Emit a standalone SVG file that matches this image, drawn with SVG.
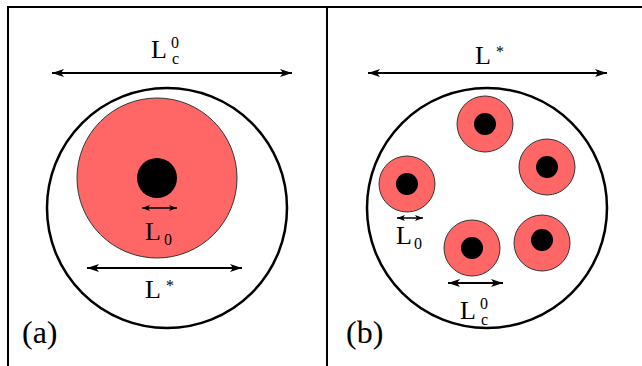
<svg xmlns="http://www.w3.org/2000/svg" width="642" height="366" viewBox="0 0 642 366">
<style>
.frame{stroke:#000;stroke-width:2;fill:none}
.big{fill:#fff;stroke:#000;stroke-width:2.5}
.red{fill:#ff6666;stroke:#333;stroke-width:1}
.core{fill:#000}
.dim{stroke:#000;stroke-width:2;fill:none;marker-start:url(#ah);marker-end:url(#ah)}
.dims{stroke:#000;stroke-width:1.5;fill:none;marker-start:url(#ahs);marker-end:url(#ahs)}
.lab{font-size:26px}
.sup{font-size:16px}
.pan{font-size:32px}
</style>
<defs>
<marker id="ah" viewBox="0 0 12 8" refX="12" refY="4" markerWidth="12" markerHeight="8" markerUnits="userSpaceOnUse" orient="auto-start-reverse">
<path d="M0,0 L12,4 L0,8 L3,4 Z" fill="#000"/>
</marker>
<marker id="ahs" viewBox="0 0 8 6" refX="8" refY="3" markerWidth="8" markerHeight="6" markerUnits="userSpaceOnUse" orient="auto-start-reverse">
<path d="M0,0 L8,3 L0,6 L2,3 Z" fill="#000"/>
</marker>
</defs>
<rect width="642" height="366" fill="#fff"/>
<g id="frame">
<path class="frame" d="M8,366 V7 H642 M327,7 V366"/>
</g>
<g id="panel-a">
<circle class="big" cx="167" cy="208" r="120"/>
<circle class="red" cx="157" cy="178" r="80"/>
<circle class="core" cx="157" cy="178" r="20"/>
</g>
<g id="panel-b">
<circle class="big" cx="487" cy="208" r="120"/>
<g id="cell1"><circle class="red" cx="485" cy="124" r="28"/><circle class="core" cx="485" cy="124" r="11"/></g>
<g id="cell2"><circle class="red" cx="547" cy="167" r="28"/><circle class="core" cx="547" cy="167" r="11"/></g>
<g id="cell3"><circle class="red" cx="407" cy="184" r="28"/><circle class="core" cx="407" cy="184" r="11"/></g>
<g id="cell4"><circle class="red" cx="472" cy="248" r="28"/><circle class="core" cx="472" cy="248" r="11"/></g>
<g id="cell5"><circle class="red" cx="542" cy="243" r="28"/><circle class="core" cx="542" cy="240" r="11"/></g>
</g>
<g id="connectors">
<line class="dim" x1="52" y1="73" x2="292" y2="73"/>
<line class="dims" x1="142" y1="208" x2="177" y2="208"/>
<line class="dim" x1="87" y1="268" x2="242" y2="268"/>
<line class="dim" x1="368" y1="73" x2="607" y2="73"/>
<line class="dims" x1="397" y1="218" x2="423" y2="218"/>
<line class="dim" x1="448" y1="283" x2="503" y2="283"/>
</g>
<g id="labels" font-family="'Liberation Serif', 'Times New Roman', serif" fill="#000">
<text class="lab" x="151" y="58">L</text><text class="sup" x="171" y="48">0<tspan x="172" y="64">c</tspan></text>
<text class="lab" x="145" y="240">L</text><text class="sup" x="164" y="245">0</text>
<text class="lab" x="145" y="298">L</text><text class="sup" x="166" y="291">*</text>
<text class="pan" x="22" y="343">(a)</text>
<text class="lab" x="475" y="64">L</text><text class="sup" x="496" y="57">*</text>
<text class="lab" x="396" y="244">L</text><text class="sup" x="414" y="249">0</text>
<text class="lab" x="460" y="319">L</text><text class="sup" x="480" y="309">0<tspan x="481" y="325">c</tspan></text>
<text class="pan" x="346" y="343">(b)</text>
</g>
</svg>
